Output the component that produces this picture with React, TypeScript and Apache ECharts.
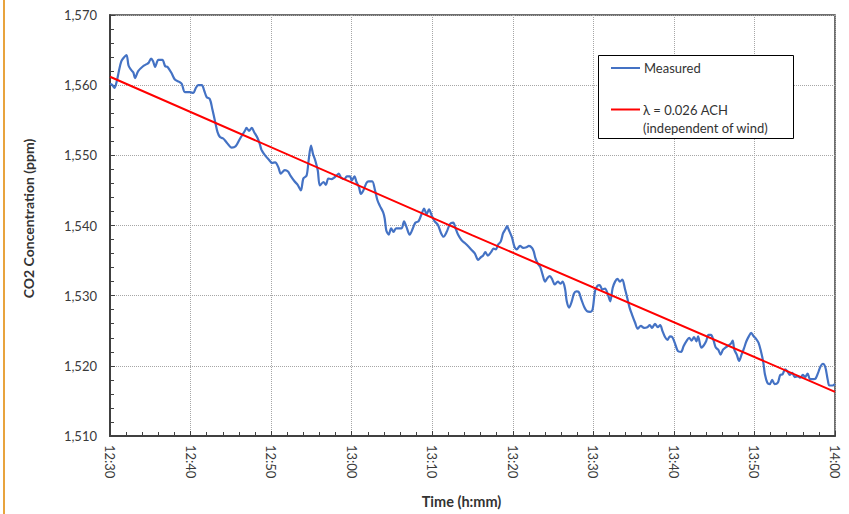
import React, { useEffect, useRef } from "react";
import * as echarts from "echarts";

const timeLabels = ["12:30", "12:40", "12:50", "13:00", "13:10", "13:20", "13:30", "13:40", "13:50", "14:00"];
const yMin = 1510;
const yMax = 1570;

const measuredMinutes = [
  0.0, 0.3, 0.55, 0.85, 1.1, 1.4, 1.7, 2.05, 2.3, 2.6, 2.9, 3.1, 3.5, 4.1, 4.55, 4.8, 5.1, 5.35, 5.6, 6.0,
  6.5, 6.85, 7.15, 7.65, 8.05, 8.55, 8.9, 9.3, 9.9, 10.35, 10.65, 10.95, 11.4, 11.7, 12.0, 12.4, 12.7, 13.05, 13.35, 13.65,
  14.05, 14.5, 15.1, 15.6, 16.1, 16.75, 16.95, 17.25, 17.6, 17.9, 18.3, 18.6, 18.8, 19.25, 19.85, 20.1, 20.5, 20.9, 21.2, 21.7,
  22.1, 22.4, 22.9, 23.3, 23.7, 24.0, 24.4, 24.65, 24.95, 25.2, 25.5, 25.8, 26.05, 26.5, 26.8, 27.1, 27.5, 27.8, 28.1, 28.4,
  28.7, 29.1, 29.4, 29.8, 30.0, 30.35, 30.6, 30.9, 31.15, 31.45, 31.85, 32.1, 32.55, 32.9, 33.2, 33.5, 33.9, 34.1, 34.3, 34.6,
  34.9, 35.2, 35.5, 35.8, 36.2, 36.5, 36.8, 37.2, 37.6, 37.9, 38.3, 38.6, 39.0, 39.3, 39.6, 39.95, 40.3, 40.7, 41.1, 41.4,
  41.8, 42.2, 42.6, 42.9, 43.2, 43.65, 44.05, 44.5, 44.9, 45.3, 45.7, 46.05, 46.3, 46.6, 46.9, 47.3, 47.6, 47.9, 48.2, 48.5,
  48.8, 49.1, 49.3, 49.5, 49.9, 50.2, 50.5, 50.9, 51.3, 51.7, 52.0, 52.4, 52.6, 52.8, 53.1, 53.4, 53.7, 54.0, 54.3, 54.6,
  54.9, 55.2, 55.6, 55.9, 56.2, 56.5, 56.7, 57.0, 57.3, 57.6, 57.9, 58.2, 58.5, 58.9, 59.2, 59.6, 59.9, 60.2, 60.5, 60.8,
  61.1, 61.45, 61.8, 62.1, 62.4, 62.7, 63.0, 63.3, 63.6, 63.9, 64.25, 64.5, 64.8, 65.2, 65.5, 65.9, 66.3, 66.7, 67.0, 67.3,
  67.65, 68.0, 68.3, 68.6, 68.9, 69.2, 69.5, 69.8, 70.1, 70.5, 70.9, 71.2, 71.6, 71.9, 72.2, 72.5, 72.8, 73.0, 73.4, 73.7,
  74.0, 74.3, 74.6, 74.9, 75.2, 75.5, 75.8, 76.1, 76.4, 76.8, 77.1, 77.3, 77.5, 77.8, 78.1, 78.4, 78.7, 79.0, 79.3, 79.6,
  79.9, 80.1, 80.5, 80.8, 81.1, 81.3, 81.6, 81.9, 82.2, 82.5, 82.9, 83.2, 83.5, 83.8, 84.1, 84.4, 84.7, 85.0, 85.4, 85.7,
  86.0, 86.3, 86.6, 86.9, 87.3, 87.6, 87.9, 88.2, 88.5, 88.8, 89.1, 89.3, 89.7, 90.0,
];

const measuredPpm = [
  1560.2, 1560.0, 1559.6, 1560.6, 1562.0, 1563.4, 1563.9, 1564.3, 1562.8, 1562.2, 1561.8, 1561.0, 1562.0, 1562.7, 1563.0, 1563.2, 1563.8, 1563.4, 1562.6, 1563.6,
  1563.6, 1562.7, 1562.6, 1561.7, 1560.8, 1560.5, 1560.2, 1559.0, 1559.0, 1558.9, 1559.6, 1560.0, 1560.0, 1559.2, 1558.3, 1558.0, 1556.6, 1554.8, 1553.3, 1552.6,
  1552.4, 1551.8, 1551.1, 1551.3, 1552.3, 1553.5, 1553.9, 1553.5, 1553.9, 1553.3, 1552.5, 1551.6, 1550.8, 1550.0, 1549.2, 1548.9, 1549.0, 1548.3, 1547.4, 1547.9,
  1547.7, 1547.1, 1546.3, 1545.8, 1545.0, 1546.7, 1547.1, 1549.2, 1551.4, 1550.2, 1549.2, 1547.8, 1545.7, 1546.2, 1545.8, 1546.7, 1546.6, 1546.8, 1547.1, 1547.4,
  1546.8, 1546.6, 1547.0, 1547.0, 1546.4, 1547.0, 1546.2, 1545.5, 1544.5, 1545.0, 1546.1, 1546.3, 1546.3, 1545.0, 1543.6, 1542.8, 1541.9, 1541.0, 1539.3, 1538.7,
  1539.6, 1539.1, 1539.6, 1539.6, 1539.6, 1540.6, 1539.8, 1538.7, 1539.6, 1540.4, 1540.6, 1541.4, 1542.4, 1541.6, 1542.3, 1541.4, 1540.6, 1540.1, 1538.9, 1538.4,
  1539.1, 1540.2, 1540.4, 1539.6, 1538.7, 1537.9, 1537.5, 1537.0, 1536.5, 1536.0, 1535.1, 1535.5, 1535.7, 1536.2, 1535.7, 1536.2, 1536.7, 1536.6, 1537.3, 1537.7,
  1538.9, 1539.5, 1539.9, 1539.4, 1538.3, 1537.0, 1536.6, 1537.1, 1536.8, 1536.9, 1537.1, 1536.8, 1536.3, 1535.4, 1534.6, 1534.1, 1533.0, 1532.0, 1532.5, 1532.8,
  1532.3, 1531.6, 1532.0, 1531.7, 1532.0, 1530.9, 1529.2, 1528.3, 1529.1, 1530.3, 1530.6, 1530.5, 1529.5, 1528.3, 1527.8, 1527.7, 1528.0, 1530.6, 1531.4, 1531.5,
  1530.9, 1531.0, 1530.2, 1529.2, 1531.1, 1532.0, 1532.4, 1532.0, 1532.3, 1531.1, 1529.5, 1528.3, 1527.3, 1526.1, 1525.3, 1525.7, 1525.4, 1525.5, 1525.8, 1525.4,
  1526.0, 1525.5, 1525.8, 1524.9, 1524.1, 1523.7, 1524.2, 1524.1, 1523.3, 1522.1, 1522.0, 1522.8, 1523.6, 1524.0, 1523.6, 1524.1, 1523.5, 1524.2, 1522.6, 1522.9,
  1523.5, 1524.4, 1524.4, 1523.7, 1522.6, 1522.3, 1521.6, 1522.3, 1522.6, 1522.9, 1523.2, 1523.6, 1522.3, 1521.6, 1520.7, 1521.6, 1522.5, 1523.5, 1524.2, 1524.7,
  1524.2, 1524.0, 1523.3, 1522.1, 1520.5, 1518.8, 1517.6, 1517.4, 1518.0, 1517.4, 1517.6, 1518.7, 1518.8, 1519.5, 1519.2, 1518.7, 1519.0, 1518.4, 1518.5, 1518.3,
  1518.7, 1518.4, 1518.9, 1518.1, 1518.1, 1518.2, 1519.0, 1519.9, 1520.3, 1519.8, 1518.0, 1517.2, 1517.2, 1517.4,
];

const fitMinutes = [0, 45, 90];
const fitPpm = [1561.2, 1538.6, 1516.3];

const measuredName = "Measured";
const fitName = "λ = 0.026 ACH";
const fitNameLine2 = "(independent of wind)";

const FONT = "Lato, 'Liberation Sans', sans-serif";

export default function App() {
  const ref = useRef<HTMLDivElement>(null);

  useEffect(() => {
    document.body.style.margin = "0";
    if (!ref.current) return;
    const chart = echarts.init(ref.current, undefined, { renderer: "svg" });

    const measured = measuredMinutes.map((m, i) => [m, measuredPpm[i]]);
    const fit = fitMinutes.map((m, i) => [m, fitPpm[i]]);

    chart.setOption({
      animation: false,
      backgroundColor: "#ffffff",
      textStyle: { fontFamily: FONT },
      grid: {
        left: 110,
        top: 15,
        right: 14,
        bottom: 75,
        show: true,
        borderColor: "#404040",
        borderWidth: 1.5,
        backgroundColor: "transparent",
      },
      xAxis: {
        type: "value",
        min: 0,
        max: 90,
        interval: 10,
        name: "Time (h:mm)",
        nameLocation: "middle",
        nameGap: 58,
        nameTextStyle: {
          fontFamily: FONT,
          fontWeight: "bold",
          fontSize: 14.5,
          color: "#333",
          padding: [0, 22, 0, 0],
        },
        axisLine: { lineStyle: { color: "#404040", width: 2 } },
        axisTick: { inside: true, length: 5, lineStyle: { color: "#404040" } },
        minorTick: { show: true, splitNumber: 5, length: 4, lineStyle: { color: "#404040" } },
        splitLine: { show: true, lineStyle: { type: "dotted", color: "#a6a6a6", width: 1 } },
        axisLabel: {
          rotate: -90,
          margin: 9,
          fontSize: 13,
          color: "#3a3a3a",
          fontFamily: FONT,
          formatter: (v: number) => timeLabels[Math.round(v / 10)] ?? "",
        },
      },
      yAxis: {
        type: "value",
        min: yMin,
        max: yMax,
        interval: 10,
        name: "CO2 Concentration (ppm)",
        nameLocation: "middle",
        nameGap: 75,
        nameTextStyle: {
          fontFamily: FONT,
          fontWeight: "bold",
          fontSize: 14,
          color: "#333",
          padding: [0, 0, 0, 14],
        },
        axisLine: { show: true, lineStyle: { color: "#404040", width: 2 } },
        axisTick: { show: true, inside: true, length: 5, lineStyle: { color: "#404040" } },
        minorTick: { show: true, splitNumber: 5, length: 4, lineStyle: { color: "#404040" } },
        splitLine: { show: true, lineStyle: { type: "dotted", color: "#a6a6a6", width: 1 } },
        axisLabel: {
          margin: 13,
          fontSize: 13,
          color: "#3a3a3a",
          fontFamily: FONT,
          formatter: (v: number) => v.toLocaleString("en-US"),
        },
      },
      series: [
        {
          name: measuredName,
          type: "line",
          data: measured,
          showSymbol: false,
          smooth: 0.3,
          lineStyle: { color: "#4472C4", width: 2.2 },
          z: 2,
        },
        {
          name: fitName,
          type: "line",
          data: fit,
          showSymbol: false,
          lineStyle: { color: "#FF0000", width: 2 },
          z: 3,
        },
      ],
      graphic: [
        { type: "rect", left: 3, top: 0, shape: { width: 2, height: 514 }, style: { fill: "#E8A33D" } },
        {
          type: "rect",
          shape: { x: 598.5, y: 55.5, width: 195, height: 83 },
          style: { fill: "#ffffff", stroke: "#000000", lineWidth: 1 },
          z: 10,
        },
        {
          type: "line",
          shape: { x1: 611, y1: 68, x2: 640, y2: 68 },
          style: { stroke: "#4472C4", lineWidth: 2 },
          z: 11,
        },
        {
          type: "text",
          x: 644,
          y: 68,
          style: { text: measuredName, fontFamily: FONT, fontSize: 13, fill: "#333", verticalAlign: "middle" },
          z: 11,
        },
        {
          type: "line",
          shape: { x1: 611, y1: 109.5, x2: 640, y2: 109.5 },
          style: { stroke: "#FF0000", lineWidth: 2 },
          z: 11,
        },
        {
          type: "text",
          x: 643,
          y: 109.5,
          style: { text: fitName, fontFamily: FONT, fontSize: 13, fill: "#333", verticalAlign: "middle" },
          z: 11,
        },
        {
          type: "text",
          x: 643,
          y: 127.5,
          style: { text: fitNameLine2, fontFamily: FONT, fontSize: 13, fill: "#333", verticalAlign: "middle" },
          z: 11,
        },
      ],
    });

    return () => chart.dispose();
  }, []);

  return <div ref={ref} style={{ width: 849, height: 514 }} />;
}
